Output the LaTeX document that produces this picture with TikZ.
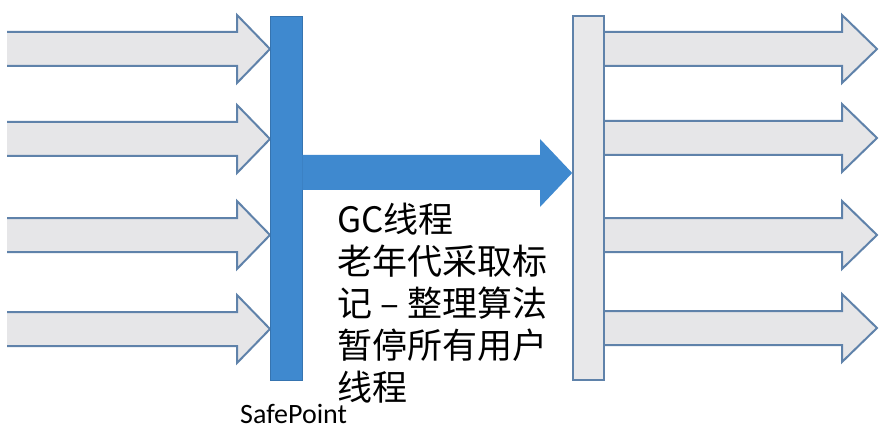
\documentclass[tikz,border=0pt]{standalone}
\usepackage{fontspec}
\setmainfont{Carlito}
\newfontfamily\cjk{Noto Sans CJK SC}
\definecolor{arrowfill}{HTML}{E6E6E8}
\definecolor{arrowline}{HTML}{5F82AA}
\definecolor{barblue}{HTML}{3F89CF}
\definecolor{bargray}{HTML}{E8E8EA}
\begin{document}
\begin{tikzpicture}[x=1pt,y=-1pt,
  grayarrow/.style={fill=arrowfill,draw=arrowline,line width=2pt,line join=miter},
  bluebar/.style={fill=barblue,draw=barblue!85!black,line width=0.6pt},
  graybar/.style={fill=bargray,draw=arrowline,line width=1.6pt},
  cjktext/.style={font=\cjk\fontsize{35}{42}\selectfont,anchor=base west,inner sep=0pt},
  lbl/.style={font=\fontsize{28}{32}\selectfont,anchor=base west,inner sep=0pt}]
\useasboundingbox (0,0) rectangle (884,433);
% left incoming arrows
\foreach \y in {49,139,235,329}{
  \fill[arrowfill] (7,\y-17) -- (237,\y-17) -- (237,\y-34) -- (270,\y) -- (237,\y+34) -- (237,\y+17) -- (7,\y+17) -- cycle;
  \draw[arrowline,line width=2pt,line join=miter] (7,\y-17) -- (237,\y-17) -- (237,\y-34) -- (270,\y) -- (237,\y+34) -- (237,\y+17) -- (7,\y+17);
}
% right outgoing arrows
\foreach \y in {49,138,235,328}{
  \draw[grayarrow] (600,\y-17) -- (842,\y-17) -- (842,\y-34) -- (877,\y) -- (842,\y+34) -- (842,\y+17) -- (600,\y+17) -- cycle;
}
% safepoint bar
\node[bluebar,minimum width=32pt,minimum height=364pt,inner sep=0pt] (sp) at (286,198) {};
% right bar
\node[graybar,minimum width=31pt,minimum height=364pt,inner sep=0pt] (rb) at (588.5,198) {};
% big blue arrow
\fill[barblue] (sp.east |- 0,155) -- (540,155) -- (540,139) -- (rb.west |- 0,173) -- (540,207) -- (540,190) -- (sp.east |- 0,190) -- cycle;
% texts
\node[cjktext] (l1) at (337,232) {GC线程};
\node[cjktext] (l2) at (337,274) {老年代采取标};
\node[cjktext] (l3) at (337,316) {记\makebox[35pt]{–}整理算法};
\node[cjktext] (l4) at (337,358) {暂停所有用户};
\node[cjktext] (l5) at (337,400) {线程};
\node[lbl] (sptext) at (240,423) {SafePoint};
\end{tikzpicture}
\end{document}
